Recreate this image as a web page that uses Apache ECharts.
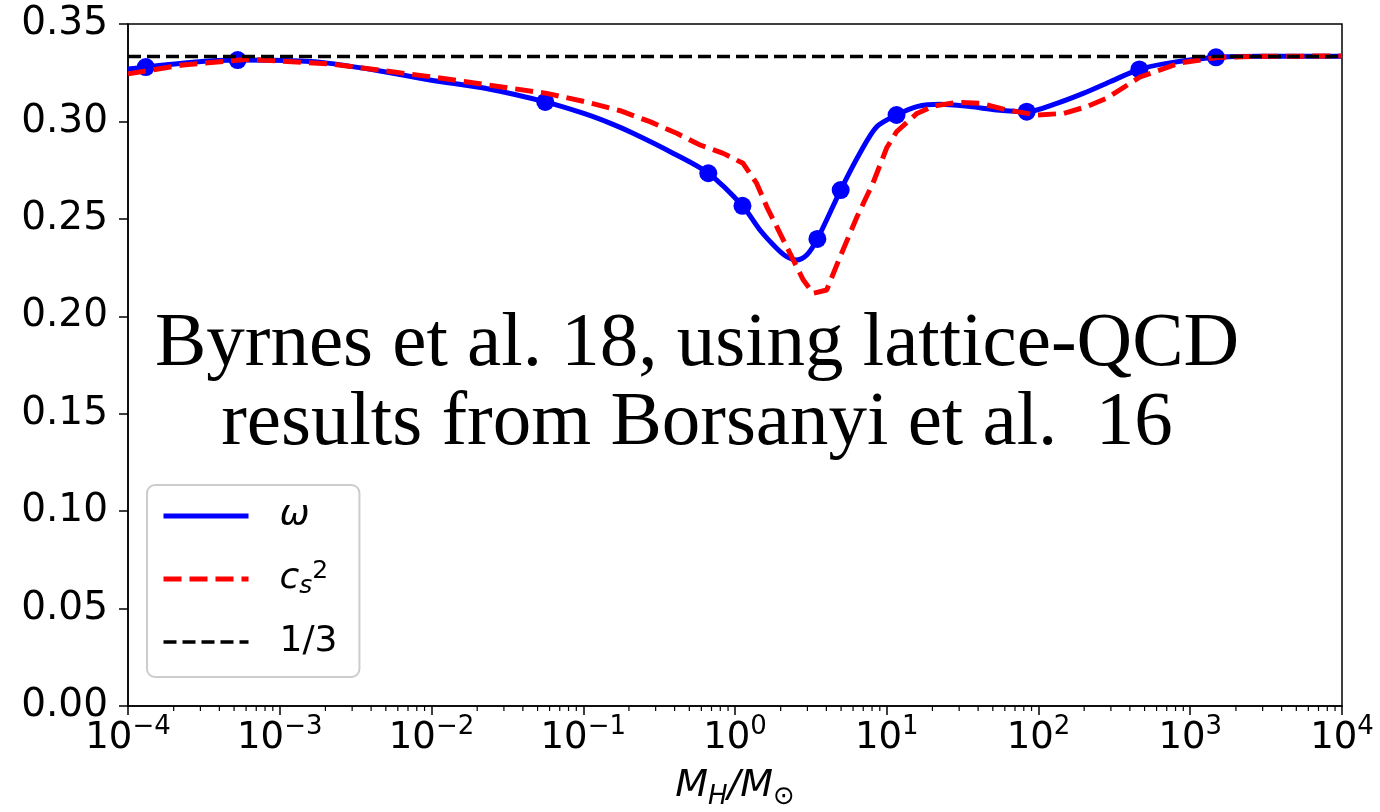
<!DOCTYPE html>
<html>
<head>
<meta charset="utf-8">
<title>Equation of state across the QCD transition</title>
<script src="https://cdn.jsdelivr.net/npm/echarts@6/dist/echarts.min.js"></script>
<style>
  html, body { margin: 0; padding: 0; background: #ffffff; }
  #chart { width: 1380px; height: 812px; }
</style>
</head>
<body>
<div id="chart"></div>
<script>
// Horizon mass M_H / M_sun and equation-of-state parameter w (solid blue curve)
const omegaMass = [1.0e-4, 1.31e-4, 2.56e-4, 5.28e-4, 1.36e-3, 2.14e-3, 4.58e-3, 9.78e-3, 2.43e-2, 5.62e-2,
  9.96e-2, 0.150, 0.213, 0.390, 0.667, 1.12, 1.46, 1.88, 2.19, 2.55, 2.97, 3.49, 4.97, 6.66, 8.59, 11.6,
  15.8, 22.4, 35.4, 53.0, 83.6, 132, 197, 296, 462, 700, 1478, 2880, 1.0e4];
const omegaValue = [0.3269, 0.3279, 0.3303, 0.3315, 0.3310, 0.3298, 0.3259, 0.3213, 0.3165, 0.3100,
  0.3042, 0.2991, 0.2939, 0.2837, 0.2734, 0.2567, 0.2443, 0.2349, 0.2306, 0.2289, 0.2314, 0.2397, 0.2648, 0.2838, 0.2973, 0.3033,
  0.3076, 0.3088, 0.3076, 0.3059, 0.3050, 0.3093, 0.3144, 0.3204, 0.3267, 0.3298, 0.3329, 0.3334, 0.3334];

// Marked sample points on the w curve
const omegaDotMass = [1.31e-4, 5.28e-4, 5.62e-2, 0.667, 1.12, 3.49, 4.97, 11.6, 83.6, 462, 1478];
const omegaDotValue = [0.3279, 0.3315, 0.3100, 0.2734, 0.2567, 0.2397, 0.2648, 0.3033, 0.3050, 0.3267, 0.3329];

// Squared sound speed c_s^2 (red dashed curve)
const cs2Mass = [1.0e-4, 2.30e-4, 6.37e-4, 2.14e-3, 9.78e-3, 5.74e-2, 0.103, 0.175, 0.275, 0.413,
  0.588, 0.837, 1.13, 1.39, 1.62, 1.98, 2.42, 2.82, 3.28, 4.02, 4.92, 6.37, 8.12, 10.0, 11.6,
  15.8, 20.3, 28.9, 41.2, 61.7, 97.3, 146, 208, 281, 467, 856, 1500, 2880, 1.0e4];
const cs2Value = [0.3244, 0.3290, 0.3319, 0.3295, 0.3230, 0.3144, 0.3101, 0.3055, 0.2999, 0.2939,
  0.2879, 0.2836, 0.2785, 0.2682, 0.2562, 0.2426, 0.2289, 0.2186, 0.2118, 0.2135, 0.2304, 0.2511, 0.2684, 0.2865, 0.2947,
  0.3041, 0.3079, 0.3098, 0.3093, 0.3059, 0.3033, 0.3041, 0.3076, 0.3119, 0.3228, 0.3300, 0.3328, 0.3334, 0.3336];

// Radiation-domination reference value 1/3 (black dashed line)
const conformalMass = [1.0e-4, 1.0e4];
const conformalValue = [1 / 3, 1 / 3];

// Axis ranges
const xMin = 1e-4, xMax = 1e4;
const yMin = 0, yMax = 0.35, yStep = 0.05;
const minorDecades = [-4, -3, -2, -1, 0, 1, 2, 3];
const minorFactors = [2, 3, 4, 5, 6, 7, 8, 9];

const sansFont = 'DejaVu Sans';
const serifFont = 'Liberation Serif';

const zip = (xs, ys) => xs.map((x, i) => [x, ys[i]]);

// minor log ticks at 2..9 x 10^k
const minorTicks = [];
minorDecades.forEach(d => minorFactors.forEach(f => minorTicks.push([f * Math.pow(10, d), 0])));

const legendLabels = {
  omega: '{it|ω}',
  cs2: '{it|c}{sub|s}{sup|2}',
  third: '{rm|1/3}'
};

const chart = echarts.init(document.getElementById('chart'), null, { renderer: 'canvas' });

chart.setOption({
  animation: false,
  backgroundColor: '#ffffff',
  grid: {
    left: 128, right: 38, top: 24, bottom: 106,
    containLabel: false,
    outerBoundsMode: 'none',
    show: true, borderColor: '#000000', borderWidth: 1.5, backgroundColor: 'transparent'
  },
  xAxis: {
    type: 'log', logBase: 10, min: xMin, max: xMax, splitNumber: 8,
    axisLine: { lineStyle: { color: '#000000', width: 1.5 } },
    axisTick: { show: true, inside: false, length: 9, lineStyle: { color: '#000000', width: 1.5 } },
    splitLine: { show: false },
    minorTick: { show: false },
    axisLabel: {
      margin: 8, showMinLabel: true, showMaxLabel: true, hideOverlap: false,
      formatter: v => {
        const e = Math.round(Math.log10(v));
        return '{b|10}{s|' + (e < 0 ? '\u2212' + (-e) : String(e)) + '}';
      },
      rich: {
        b: { fontFamily: sansFont, fontSize: 37, lineHeight: 48, color: '#000000' },
        s: { fontFamily: sansFont, fontSize: 26, lineHeight: 26, verticalAlign: 'top', color: '#000000' }
      }
    },
    name: '{m|M}{s|H}{m|/M}{s|⊙}',
    nameLocation: 'middle', nameGap: 56,
    nameTextStyle: {
      rich: {
        m: { fontFamily: sansFont, fontStyle: 'italic', fontSize: 38, lineHeight: 48, color: '#000000' },
        s: { fontFamily: sansFont, fontStyle: 'italic', fontSize: 26, lineHeight: 18, verticalAlign: 'bottom', color: '#000000' }
      }
    }
  },
  yAxis: {
    type: 'value', min: yMin, max: yMax, interval: yStep,
    axisLine: { show: true, lineStyle: { color: '#000000', width: 1.5 } },
    axisTick: { show: true, inside: false, length: 9, lineStyle: { color: '#000000', width: 1.5 } },
    splitLine: { show: false },
    axisLabel: {
      margin: 20, fontFamily: sansFont, fontSize: 39, color: '#000000',
      showMinLabel: true, showMaxLabel: true,
      formatter: v => v.toFixed(2)
    }
  },
  legend: {
    orient: 'vertical', left: 147, top: 485,
    padding: [13, 22, 17, 14],
    itemWidth: 85, itemHeight: 14, itemGap: 25,
    backgroundColor: 'rgba(255,255,255,0.85)',
    borderColor: '#cccccc', borderWidth: 2, borderRadius: 8,
    itemStyle: { opacity: 0 },
    data: [
      { name: 'omega', lineStyle: { width: 5 } },
      { name: 'cs2', lineStyle: { width: 5 } },
      { name: 'third', lineStyle: { width: 3.5 } }
    ],
    formatter: name => legendLabels[name],
    selectedMode: false,
    textStyle: {
      padding: [0, 0, 0, 26],
      rich: {
        it: { fontFamily: sansFont, fontStyle: 'italic', fontSize: 36, lineHeight: 40, color: '#000000' },
        rm: { fontFamily: sansFont, fontSize: 36, lineHeight: 40, color: '#000000' },
        sub: { fontFamily: sansFont, fontStyle: 'italic', fontSize: 25, lineHeight: 18, verticalAlign: 'bottom', color: '#000000' },
        sup: { fontFamily: sansFont, fontSize: 25, lineHeight: 18, verticalAlign: 'top', color: '#000000' }
      }
    }
  },
  graphic: [
    {
      type: 'text', x: 697, y: 383, z: 50,
      style: {
        text: 'Byrnes et al. 18, using lattice-QCD',
        fontFamily: serifFont, fontSize: 77, fill: '#000000',
        align: 'center', verticalAlign: 'bottom'
      }
    },
    {
      type: 'text', x: 697, y: 462, z: 50,
      style: {
        text: 'results from Borsanyi et al.  16',
        fontFamily: serifFont, fontSize: 77, fill: '#000000',
        align: 'center', verticalAlign: 'bottom'
      }
    }
  ],
  series: [
    {
      name: 'omega', type: 'line', data: zip(omegaMass, omegaValue),
      smooth: 0.3, symbol: 'none', showSymbol: false,
      lineStyle: { color: '#0000ff', width: 5 }, itemStyle: { color: '#0000ff' },
      z: 2
    },
    {
      name: 'omegaDots', type: 'scatter', data: zip(omegaDotMass, omegaDotValue),
      symbol: 'circle', symbolSize: 18,
      itemStyle: { color: '#0000ff', opacity: 1 },
      z: 3
    },
    {
      name: 'cs2', type: 'line', data: zip(cs2Mass, cs2Value),
      smooth: false, symbol: 'none', showSymbol: false,
      lineStyle: { color: '#ff0000', width: 5, type: [18, 8] }, itemStyle: { color: '#ff0000' },
      z: 4
    },
    {
      name: 'third', type: 'line', data: zip(conformalMass, conformalValue),
      symbol: 'none', showSymbol: false,
      lineStyle: { color: '#000000', width: 3.5, type: [13, 6] }, itemStyle: { color: '#000000' },
      z: 5
    },
    {
      name: 'minorTicks', type: 'custom', data: minorTicks, clip: false, silent: true, z: 10,
      renderItem: (params, api) => {
        const p = api.coord([api.value(0), api.value(1)]);
        return {
          type: 'line',
          shape: { x1: p[0], y1: p[1], x2: p[0], y2: p[1] + 5 },
          style: { stroke: '#000000', lineWidth: 1.2 }
        };
      }
    }
  ]
});
</script>
</body>
</html>
